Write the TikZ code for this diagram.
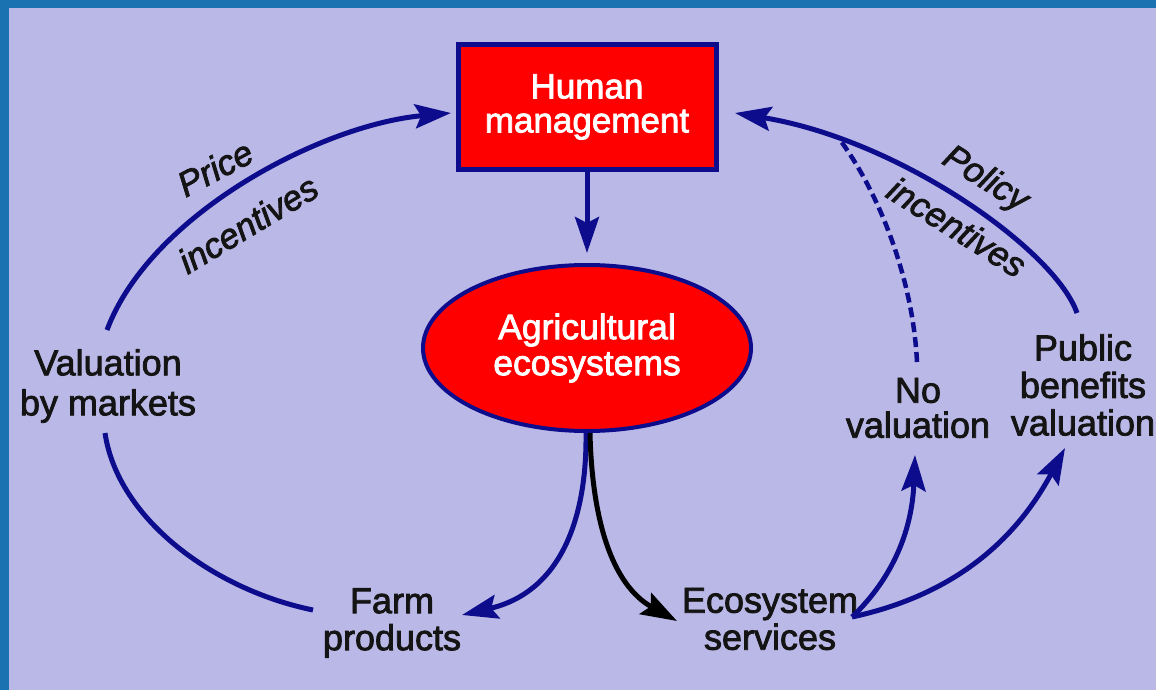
\documentclass[tikz,border=0pt]{standalone}
\usepackage{fontspec}
\setmainfont{Liberation Sans}
\newfontfamily\lblfont{Liberation Sans}[FakeBold=2.2]
\usetikzlibrary{arrows.meta,shapes.geometric,calc}
\definecolor{bgl}{RGB}{186,184,230}
\definecolor{frameblue}{RGB}{26,114,176}
\definecolor{navy}{RGB}{12,12,140}
\definecolor{boxred}{RGB}{255,0,0}
\definecolor{ink}{RGB}{20,20,20}
\begin{document}
\begin{tikzpicture}[x=1pt,y=-1pt,
  lbl/.style={align=center, inner sep=0pt, text=ink},
  ilbl/.style={inner sep=0pt, text=ink, font=\lblfont\itshape\fontsize{35}{37}\selectfont},
  hmbox/.style={rectangle, draw=navy, line width=5pt, fill=boxred, text=white,
     minimum width=258pt, minimum height=125pt, align=center, inner sep=0pt,
     font=\lblfont\fontsize{35}{34}\selectfont},
  aebox/.style={ellipse, draw=navy, line width=4pt, fill=boxred, text=white,
     minimum width=328pt, minimum height=166pt, align=center, inner sep=0pt,
     font=\lblfont\fontsize{35.5}{36}\selectfont},
  conn/.style={draw=navy, line width=5pt},
  arr/.style={-{Stealth[length=36pt,width=24pt,inset=6pt]}},
  dconn/.style={draw=navy, line width=4.5pt, dash pattern=on 10pt off 5pt}
]
\useasboundingbox (0,0) rectangle (1156,690);
\fill[bgl] (0,0) rectangle (1156,690);
\fill[frameblue] (0,0) rectangle (1156,8);
\fill[frameblue] (0,0) rectangle (9,690);

% main nodes
\node[hmbox] (hm) at (587,107) {Human\\management};
\node[aebox] (ae) at (587,348) {Agricultural\\ecosystems};

% text labels
\node[lbl, font=\lblfont\fontsize{36}{40}\selectfont] (vbm) at (108,386) {Valuation\\by markets};
\node[lbl, font=\lblfont\fontsize{36}{35}\selectfont] (nv) at (918,408) {No\\valuation};
\node[lbl, font=\lblfont\fontsize{36}{37.5}\selectfont] (pb) at (1083,385) {Public\\benefits\\valuation};
\node[lbl, font=\lblfont\fontsize{36}{37}\selectfont] (fp) at (392,623) {Farm\\products};
\node[lbl, font=\lblfont\fontsize{36}{37}\selectfont] (es) at (770,619) {Ecosystem\\services};

\node[ilbl, rotate=28] (pr) at (215,168) {Price};
\node[ilbl, rotate=31] (pin) at (248,224) {incentives};
\node[ilbl, rotate=-32] (po) at (985,180) {Policy};
\node[ilbl, rotate=-32] (poin) at (957,227) {incentives};

% connectors
\draw[conn, arr] (hm.south) -- ($(ae.north)+(0,-10)$);

\draw[conn, arr] ($(vbm)+(-1,-56)$) .. controls (150,215) and (320,125) .. ($(hm)+(-136,6)$);

\draw[conn] ($(vbm)+(-3,47)$) .. controls (118,520) and (215,590) .. ($(fp)+(-79,-13)$);

\draw[conn, arr] ($(ae)+(-1,85)$) .. controls (587,520) and (560,592) .. ($(fp)+(70,-8)$);

\draw[line width=5pt, draw=black, arr]
  ($(ae)+(3,85)$) .. controls (592,520) and (612,585) .. ($(es)+(-93,2)$);

\draw[conn, arr] ($(es)+(82,-2)$) .. controls (893,578) and (912,530) .. ($(nv)+(-3,47)$);

\draw[conn, arr] ($(es)+(82,-2)$) .. controls (930,600) and (1005,560) .. ($(pb)+(-18,63)$);

\draw[conn, arr] ($(pb)+(-6,-72)$) .. controls (1055,250) and (900,140) .. ($(hm)+(148,6)$)
  coordinate[pos=0.78] (pj);

\draw[dconn] ($(nv)+(-1,-46)$) .. controls (913,280) and (880,195) .. (pj);
\end{tikzpicture}
\end{document}
